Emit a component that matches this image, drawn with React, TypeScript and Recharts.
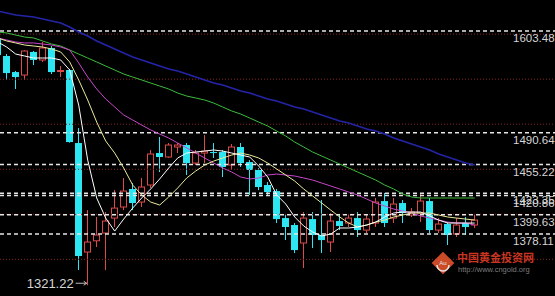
import { Bar, ComposedChart, Line, ReferenceDot, ReferenceLine, XAxis, YAxis } from 'recharts'

// daily candles, oldest first (index 0 is cut by the left edge)
const opens = [
  1595.7, 1575.7, 1557.9, 1554.6, 1580.2, 1571.3, 1584.6, 1558.5, 1560.2, 1479.1,
  1358.1, 1370.6, 1379.2, 1395.8, 1408.1, 1428.1, 1413.6, 1432.5, 1468.0, 1463.6,
  1474.7, 1476.9, 1456.9, 1468.0, 1469.1, 1469.1, 1454.7, 1474.7, 1458.0, 1449.2,
  1432.5, 1425.8, 1395.8, 1388.1, 1368.1, 1394.7, 1377.0, 1369.2, 1392.5, 1390.3,
  1395.8, 1382.5, 1390.3, 1414.7, 1395.8, 1412.5, 1399.2, 1401.4, 1414.7, 1382.5,
  1389.2, 1378.1, 1390.3, 1388.1,
]
const highs = [
  1599.0, 1577.9, 1559.1, 1582.4, 1581.3, 1591.3, 1586.8, 1564.6, 1561.3, 1495.8,
  1404.7, 1397.0, 1402.5, 1426.9, 1440.3, 1434.7, 1440.3, 1471.4, 1485.8, 1479.1,
  1479.1, 1479.1, 1471.4, 1488.0, 1479.1, 1471.4, 1478.0, 1479.1, 1460.2, 1451.4,
  1435.8, 1428.1, 1399.2, 1390.3, 1402.5, 1402.5, 1415.8, 1401.4, 1399.2, 1399.2,
  1402.5, 1399.2, 1418.1, 1423.6, 1418.1, 1415.8, 1406.9, 1423.6, 1418.1, 1395.8,
  1391.4, 1395.8, 1397.0, 1399.2,
]
const lows = [
  1573.5, 1549.1, 1539.1, 1549.1, 1565.7, 1569.1, 1555.7, 1552.4, 1479.5, 1338.1,
  1321.22, 1363.6, 1338.1, 1385.9, 1404.7, 1404.7, 1408.1, 1429.2, 1446.9, 1462.5,
  1468.0, 1443.6, 1454.7, 1456.9, 1462.5, 1441.4, 1449.2, 1452.5, 1421.4, 1426.9,
  1421.4, 1390.3, 1371.4, 1357.0, 1340.3, 1362.5, 1357.0, 1358.1, 1382.5, 1385.9,
  1374.8, 1379.2, 1385.9, 1385.9, 1390.3, 1390.3, 1397.0, 1391.4, 1379.2, 1379.2,
  1365.9, 1374.8, 1377.0, 1384.8,
]
const closes = [
  1576.8, 1556.8, 1552.4, 1581.3, 1571.3, 1584.6, 1557.9, 1559.6, 1480.2, 1353.7,
  1369.2, 1377.0, 1392.5, 1406.9, 1425.8, 1412.5, 1430.3, 1466.9, 1463.6, 1476.9,
  1476.9, 1456.9, 1468.0, 1470.2, 1468.0, 1452.5, 1474.7, 1456.9, 1449.2, 1430.3,
  1424.7, 1394.7, 1385.9, 1360.3, 1395.8, 1377.0, 1371.4, 1392.5, 1387.0, 1395.8,
  1382.5, 1394.7, 1413.6, 1390.3, 1411.4, 1401.4, 1402.5, 1414.7, 1382.5, 1389.2,
  1377.0, 1388.1, 1385.9, 1393.6,
]

// moving averages
const ma5 = [
  1591.3, 1585.7, 1577.9, 1575.7, 1573.5, 1573.5, 1573.5, 1571.3, 1560.2, 1521.3,
  1460.2, 1418.1, 1395.8, 1381.4, 1394.7, 1406.9, 1418.1, 1428.1, 1439.2, 1451.4,
  1462.5, 1468.0, 1469.1, 1470.2, 1471.4, 1470.2, 1468.0, 1465.8, 1463.6, 1453.6,
  1441.4, 1421.4, 1411.4, 1397.0, 1387.0, 1380.3, 1375.9, 1378.1, 1384.8, 1384.8,
  1385.9, 1388.1, 1391.4, 1397.0, 1401.4, 1402.5, 1402.5, 1402.5, 1398.1, 1393.6,
  1390.3, 1390.3, 1390.3, 1390.3,
]
const ma10 = [
  1595.7, 1592.4, 1590.2, 1587.9, 1586.8, 1585.7, 1583.5, 1580.2, 1569.1, 1549.1,
  1526.9, 1502.4, 1481.4, 1468.0, 1451.4, 1432.5, 1421.4, 1413.6, 1410.3, 1419.2,
  1429.2, 1440.3, 1448.0, 1454.7, 1459.1, 1462.5, 1465.8, 1468.0, 1465.8, 1462.5,
  1456.9, 1450.3, 1443.6, 1436.9, 1428.1, 1420.3, 1412.5, 1404.7, 1397.0, 1390.3,
  1385.9, 1388.1, 1391.4, 1393.6, 1397.0, 1399.2, 1401.4, 1401.4, 1401.4, 1399.2,
  1397.0, 1395.8, 1394.7, 1393.6,
]
const ma20 = [
  1595.7, 1593.5, 1591.3, 1590.2, 1590.2, 1589.0, 1587.9, 1585.7, 1582.4, 1568.0,
  1552.4, 1539.1, 1528.0, 1519.1, 1510.2, 1504.7, 1499.1, 1493.6, 1489.1, 1484.7,
  1479.1, 1473.6, 1468.0, 1462.5, 1456.9, 1451.4, 1446.9, 1441.4, 1439.2, 1440.3,
  1443.6, 1444.7, 1443.6, 1442.5, 1440.3, 1438.0, 1434.7, 1431.4, 1428.1, 1424.7,
  1421.4, 1416.9, 1412.5, 1409.2, 1405.8, 1403.6, 1401.4, 1398.1, 1395.8, 1393.6,
  1391.4, 1390.3, 1390.3, 1388.1,
]
const ma30 = [
  1602.4, 1601.3, 1599.0, 1596.8, 1595.7, 1592.4, 1589.0, 1586.8, 1582.4, 1577.9,
  1573.5, 1569.1, 1564.6, 1560.2, 1555.7, 1552.4, 1549.1, 1545.7, 1542.4, 1539.1,
  1534.6, 1531.3, 1529.1, 1526.9, 1523.5, 1519.1, 1514.7, 1511.3, 1506.9, 1502.4,
  1498.0, 1492.4, 1486.9, 1480.2, 1474.7, 1469.1, 1464.7, 1460.2, 1455.8, 1451.4,
  1446.9, 1442.5, 1438.0, 1432.5, 1428.1, 1422.5, 1419.2, 1418.1, 1418.1, 1418.1,
  1418.1, 1418.1, 1418.1, 1418.1,
]
const ma60 = [
  1625.7, 1623.5, 1621.2, 1620.1, 1619.0, 1616.8, 1614.6, 1612.4, 1607.9, 1602.4,
  1597.9, 1592.4, 1587.9, 1583.5, 1579.1, 1574.6, 1571.3, 1568.0, 1564.6, 1561.3,
  1559.1, 1555.7, 1552.4, 1549.1, 1545.7, 1543.5, 1540.2, 1536.9, 1534.6, 1531.3,
  1528.0, 1525.8, 1522.4, 1519.1, 1516.9, 1513.5, 1510.2, 1506.9, 1503.6, 1501.3,
  1498.0, 1494.7, 1492.4, 1489.1, 1484.7, 1481.4, 1478.0, 1474.7, 1471.4, 1466.9,
  1463.6, 1460.2, 1456.9, 1454.7,
]

// marked price levels and the price grid
const levels = [1603.48, 1490.64, 1455.22, 1423.35, 1420.86, 1399.63, 1378.11]
const gridPrices = [1600, 1550, 1500, 1450, 1400, 1350]
const lowPrice = 1321.22
const lowIndex = 10

const UP = '#dc4a4a'
const DOWN = '#2ee6f2'
const LABEL = '#d6d6d6'
const FONT = '"Liberation Sans", Arial, sans-serif'

const data = opens.map((open, i) => ({
  idx: i,
  open,
  high: highs[i],
  low: lows[i],
  close: closes[i],
  range: [lows[i], highs[i]],
  ma5: ma5[i],
  ma10: ma10[i],
  ma20: ma20[i],
  ma30: ma30[i],
  ma60: ma60[i],
}))

function Candle(props: any) {
  const { x, y, width, height, payload } = props
  if (x == null || y == null || !payload) return null
  const { open, close, high, low } = payload
  const k = high > low ? height / (high - low) : 0
  const top = y + (high - Math.max(open, close)) * k
  const bottom = y + (high - Math.min(open, close)) * k
  const left = Math.round(x)
  const mid = left + Math.floor(width / 2) + 0.5

  if (close >= open) {
    return (
      <g>
        <line x1={mid} x2={mid} y1={y} y2={top} stroke={UP} />
        <line x1={mid} x2={mid} y1={bottom} y2={y + height} stroke={UP} />
        <rect x={left + 0.5} y={top} width={width - 1} height={Math.max(bottom - top, 1)} fill="#000" stroke={UP} />
      </g>
    )
  }
  return (
    <g>
      <line x1={mid} x2={mid} y1={y} y2={y + height} stroke={DOWN} />
      <rect x={left} y={top} width={width} height={Math.max(bottom - top, 1)} fill={DOWN} />
    </g>
  )
}

function LevelLabel({ viewBox, text }: any) {
  if (!viewBox) return null
  return (
    <text x={513} y={viewBox.y + 11} fill={LABEL} fontSize={11.5} fontFamily={FONT}>
      {text}
    </text>
  )
}

function LowMark({ cx, cy }: any) {
  if (cx == null || cy == null) return null
  const ay = cy - 2
  return (
    <g>
      <text x={cx - 14} y={cy + 3} textAnchor="end" fill={LABEL} fontSize={13} fontFamily={FONT}>
        {lowPrice.toFixed(2)}
      </text>
      <line x1={cx - 12} x2={cx - 1} y1={ay} y2={ay} stroke="#bbbbbb" />
      <path d={`M${cx - 4} ${ay - 2} L${cx - 1} ${ay} L${cx - 4} ${ay + 2}`} fill="none" stroke="#bbbbbb" />
    </g>
  )
}

function Watermark() {
  return (
    <svg width={555} height={296} style={{ position: 'absolute', left: 0, top: 0, pointerEvents: 'none' }}>
      <g transform="translate(443 263)" opacity={0.9}>
        <rect x={-8} y={-8} width={16} height={16} transform="rotate(45)" fill="#e2542c" />
        <path d="M -6 2 A 6 6 0 0 0 6 2" fill="none" stroke="#ffffff" strokeWidth={1.5} />
        <text x={0} y={2} textAnchor="middle" fontSize={6} fill="#ffffff" fontFamily={FONT}>Au</text>
      </g>
      <text x={457} y={262} fontSize={11} fontWeight="bold" fill="#c83622" fontFamily='"Noto Sans CJK SC", sans-serif'>
        中国黄金投资网
      </text>
      <text x={458} y={272} fontSize={7.5} fill="#7c7c7c" fontFamily={FONT}>
        http://www.cngold.org
      </text>
    </svg>
  )
}

export default function App() {
  return (
    <div style={{ position: 'absolute', left: 0, top: 0, width: 555, height: 296, background: '#000', overflow: 'hidden' }}>
      <ComposedChart width={555} height={296} data={data} margin={{ top: 0, right: 0, bottom: 0, left: 0 }}>
        <XAxis dataKey="idx" type="number" domain={[0.256, 61.92]} allowDataOverflow hide />
        <YAxis type="number" domain={[1309.3, 1637.9]} allowDataOverflow hide />

        {gridPrices.map((p) => (
          <ReferenceLine key={p} y={p} stroke="#8a2222" strokeDasharray="1 2" />
        ))}
        {levels.map((p) => (
          <ReferenceLine
            key={p}
            y={p}
            stroke="#e6e6e6"
            strokeWidth={1.5}
            strokeDasharray="4 3"
            label={<LevelLabel text={p.toFixed(2)} />}
          />
        ))}

        <Bar dataKey="range" barSize={7} shape={<Candle />} isAnimationActive={false} />

        <Line type="linear" dataKey="ma60" stroke="#2424a8" strokeWidth={1.6} dot={false} isAnimationActive={false} />
        <Line type="linear" dataKey="ma30" stroke="#3cbc3c" strokeWidth={1} dot={false} isAnimationActive={false} />
        <Line type="linear" dataKey="ma20" stroke="#c846c8" strokeWidth={1} dot={false} isAnimationActive={false} />
        <Line type="linear" dataKey="ma10" stroke="#eaea9a" strokeWidth={1} dot={false} isAnimationActive={false} />
        <Line type="linear" dataKey="ma5" stroke="#ffffff" strokeWidth={1} dot={false} isAnimationActive={false} />

        <ReferenceDot x={lowIndex} y={lowPrice} r={0} shape={<LowMark />} />
      </ComposedChart>
      <Watermark />
    </div>
  )
}
